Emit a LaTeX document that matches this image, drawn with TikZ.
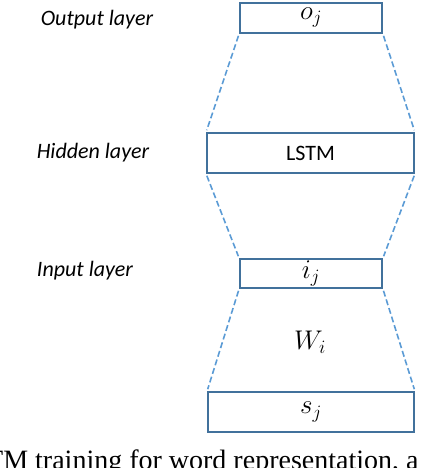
\RequirePackage{fix-cm}
\documentclass[tikz,border=0pt]{standalone}
\usepackage{fontspec}
\setmainfont{Carlito}
\newfontfamily\capfont{Liberation Serif}
\usetikzlibrary{positioning}

\definecolor{boxblue}{HTML}{41719C}
\definecolor{linkblue}{HTML}{5B9BD5}

\tikzset{
    layerbox/.style={draw=boxblue, line width=1.8pt, inner sep=0pt, font=\fontsize{22}{26}\selectfont},
    mathtxt/.style={font=\fontsize{27}{30}\selectfont},
    layerlabel/.style={font=\fontsize{22}{26}\selectfont\itshape},
    link/.style={draw=linkblue, line width=1.6pt, dash pattern=on 6pt off 3pt, shorten <=2pt, shorten >=2pt}
}

\begin{document}
\begin{tikzpicture}[x=1pt,y=-1pt]
    \useasboundingbox (0,0) rectangle (446,468);

    % layer boxes
    \node[layerbox, mathtxt, minimum width=142pt, minimum height=30pt] (out) at (311,18) {$o_j$};
    \node[layerbox, minimum width=207pt, minimum height=40pt] (hid) at (310.5,153) {LSTM};
    \node[layerbox, mathtxt, minimum width=142pt, minimum height=29pt] (inp) at (311,273.5) {$i_j$};
    \node[layerbox, mathtxt, minimum width=206pt, minimum height=40pt] (src) at (311,412) {$s_j$};
    \node[mathtxt] (wi) at (310,342) {$W_i$};

    % layer names
    \node[layerlabel] (outlbl) at (97,20) {Output layer};
    \node[layerlabel] (hidlbl) at (93,153) {Hidden layer};
    \node[layerlabel] (inplbl) at (85,271) {Input layer};

    % dashed links between layers
    \draw[link] (out.south west) -- (hid.north west);
    \draw[link] (out.south east) -- (hid.north east);
    \draw[link] (hid.south west) -- (inp.north west);
    \draw[link] (hid.south east) -- (inp.north east);
    \draw[link] (inp.south west) -- (src.north west);
    \draw[link] (inp.south east) -- (src.north east);

    % caption, cut off at the page edge
    \node[anchor=north west, inner sep=0pt, font=\capfont\fontsize{28}{32}\selectfont] (cap) at (-14,450) {TM training for word representation, a};
\end{tikzpicture}
\end{document}
